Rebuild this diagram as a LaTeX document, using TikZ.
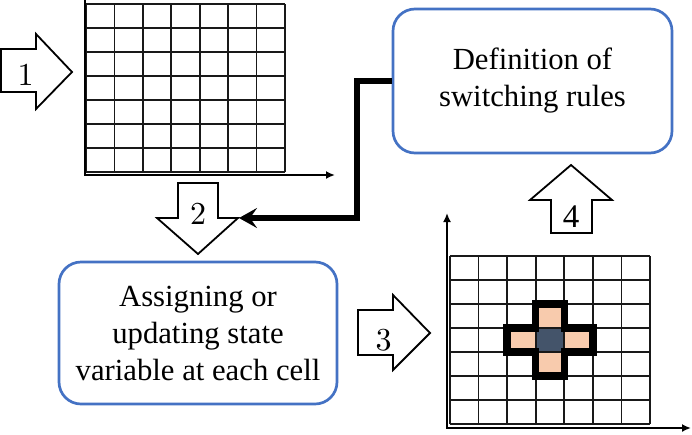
\documentclass[tikz,border=0pt]{standalone}
\usepackage{fontspec}
\newfontfamily\tnr{Liberation Serif}
\newfontfamily\lmten{lmroman10-regular}[Extension=.otf]
\usetikzlibrary{arrows.meta}
\definecolor{boxblue}{HTML}{4472C4}
\definecolor{peach}{HTML}{F8CBAD}
\definecolor{slate}{HTML}{44546A}
\begin{document}
\begin{tikzpicture}[x=1pt,y=-1pt,
  rbox/.style={draw=boxblue, line width=2.7pt, rounded corners=22pt, fill=white, align=center,
    font=\tnr\fontsize{30.7}{37}\selectfont, inner sep=0pt},
  blockarrow/.style={draw=black, line width=1.8pt, fill=white, line join=miter},
  numlabel/.style={font=\lmten\fontsize{32}{32}\selectfont, inner sep=0pt},
  gridline/.style={line width=1.8pt, draw=black!90},
  axisline/.style={line width=2.4pt},
  link/.style={line width=6pt, -{Stealth[length=18pt,width=20pt,inset=7pt]}},
  crossedge/.style={line width=7.5pt, line join=miter}
]
\useasboundingbox (0,0) rectangle (692,434);

% ---- grid 1 ----
\foreach \i in {0,...,7} {
  \draw[gridline] ({86+\i*28.43},4) -- ({86+\i*28.43},172.3);
  \draw[gridline] (86,{4+\i*24.05}) -- (285,{4+\i*24.05});
}
\coordinate (y1top) at (85,0);
\coordinate (o1) at (85,175);
\coordinate (x1end) at (335,175);
\draw[axisline, -{Latex[length=9pt,width=8pt]}] (y1top) -- (o1) -- (x1end);

% ---- grid 2 ----
\fill[slate] (535.7,328) rectangle (564.3,352);
\fill[peach] (535.7,304) rectangle (564.3,328);
\fill[peach] (535.7,352) rectangle (564.3,376);
\fill[peach] (507.1,328) rectangle (535.7,352);
\fill[peach] (564.3,328) rectangle (592.9,352);
\foreach \i in {0,...,7} {
  \draw[gridline] ({450+\i*28.57},256) -- ({450+\i*28.57},424);
  \draw[gridline] (450,{256+\i*24}) -- (650,{256+\i*24});
}
\draw[crossedge] (507.1,328) -- (535.7,328) -- (535.7,304) -- (564.3,304) -- (564.3,328)
  -- (592.9,328) -- (592.9,352) -- (564.3,352) -- (564.3,376) -- (535.7,376)
  -- (535.7,352) -- (507.1,352) -- cycle;
\coordinate (y2top) at (447,213);
\coordinate (o2) at (447,428);
\coordinate (x2end) at (691,428);
\draw[axisline, {Latex[length=9pt,width=8pt]}-{Latex[length=9pt,width=8pt]}] (y2top) -- (o2) -- (x2end);

% ---- boxes ----
\node[rbox, minimum width=279pt, minimum height=144pt] (def) at (532.5,81) {Definition of\\switching rules};
\node[rbox, minimum width=278pt, minimum height=142pt] (asg) at (198,333) {Assigning or\\updating state\\variable at each cell};

% ---- block arrows ----
\draw[blockarrow] (1,49) -- (36,49) -- (36,34) -- (72,72) -- (36,109) -- (36,92) -- (1,92) -- cycle;
\node[numlabel] (n1) at (25.5,75) {1};

\draw[blockarrow] (178,183) -- (218,183) -- (218,218) -- (238,218) -- (198,254) -- (157,218) -- (178,218) -- cycle;
\coordinate (a2e) at (239,218);
\node[numlabel] (n2) at (198,213.5) {2};

\draw[blockarrow] (358,310) -- (393,310) -- (393,295) -- (430,333) -- (393,370) -- (393,355) -- (358,355) -- cycle;
\node[numlabel] (n3) at (383.5,340) {3};

\draw[blockarrow] (551,233) -- (551,200) -- (530,200) -- (571,165) -- (612,200) -- (592,200) -- (592,233) -- cycle;
\node[numlabel, font=\tnr\fontsize{33}{33}\selectfont] (n4) at (571,216.5) {4};

% ---- connector ----
\draw[link] (def.west) -- ++(-35,0) |- (a2e);
\end{tikzpicture}
\end{document}
